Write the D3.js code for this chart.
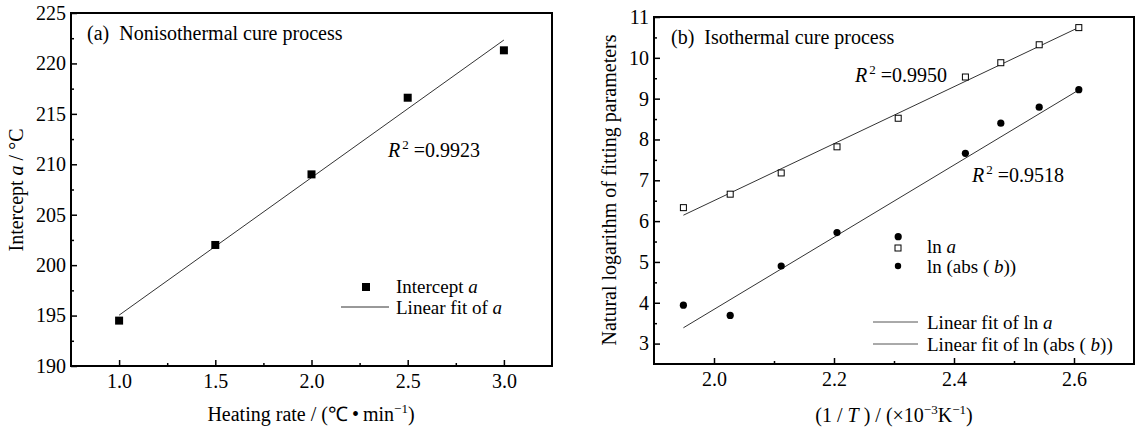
<!DOCTYPE html>
<html>
<head>
<meta charset="utf-8">
<script src="https://cdn.jsdelivr.net/npm/d3@7"></script>
<style>
  body { margin: 0; background: #fff; }
  svg { display: block; font-family: "Liberation Serif", "Times New Roman", serif; }
  svg text { font-family: "Liberation Serif", "Times New Roman", serif; }
  .tick text { font-size: 20px; fill: #000; font-family: "Liberation Serif", "Times New Roman", serif; }
  .tick line { stroke: #000; stroke-width: 1.5; }
</style>
</head>
<body>
<svg id="chart" width="1143" height="427"></svg>
<script>
// (a) nonisothermal
const heatingRate = [1.0, 1.5, 2.0, 2.5, 3.0];
const interceptA = [194.5, 202.0, 209.0, 216.6, 221.3];
const ticksA_x = [1.0, 1.5, 2.0, 2.5, 3.0];
const ticksA_y = [190, 195, 200, 205, 210, 215, 220, 225];

// (b) isothermal
const invT = [1.949, 2.027, 2.112, 2.205, 2.307, 2.419, 2.478, 2.542, 2.608];
const lnA = [6.33, 6.66, 7.18, 7.82, 8.52, 9.53, 9.88, 10.32, 10.74];
const lnAbsB = [3.94, 3.69, 4.90, 5.72, 5.62, 7.66, 8.40, 8.79, 9.22];
const ticksB_x = [2.0, 2.2, 2.4, 2.6];
const ticksB_y = [3, 4, 5, 6, 7, 8, 9, 10, 11];

const svg = d3.select("#chart");

// least squares fit, returns endpoints at first/last x
function fit(xs, ys) {
    const mx = d3.mean(xs), my = d3.mean(ys);
    const b = d3.sum(xs, (v, i) => (v - mx) * (ys[i] - my)) / d3.sum(xs, v => (v - mx) * (v - mx));
    const a = my - b * mx;
    const x0 = d3.min(xs), x1 = d3.max(xs);
    return [{ x: x0, y: a + b * x0 }, { x: x1, y: a + b * x1 }];
}

function drawAxes(g, x, y, xt, yt, xMinor, yMinor, xFmt, yFmt) {
    const [x0, x1] = x.range();
    const [y0, y1] = y.range();
    const clean = s => {
        s.select(".domain").remove();
        s.attr("font-family", null).attr("font-size", null);
    };
    // minor ticks
    g.append("g").attr("transform", `translate(0,${y0})`)
        .call(d3.axisBottom(x).tickValues(xMinor).tickSize(-3).tickFormat(""))
        .call(clean);
    g.append("g").attr("transform", `translate(${x0},0)`)
        .call(d3.axisLeft(y).tickValues(yMinor).tickSize(-3).tickFormat(""))
        .call(clean);
    // major ticks
    g.append("g").attr("transform", `translate(0,${y0})`)
        .call(d3.axisBottom(x).tickValues(xt).tickSize(-6).tickPadding(8).tickFormat(xFmt))
        .call(clean);
    g.append("g").attr("transform", `translate(${x0},0)`)
        .call(d3.axisLeft(y).tickValues(yt).tickSize(-6).tickPadding(5).tickFormat(yFmt))
        .call(clean);
    // frame
    g.append("rect")
        .attr("x", x0).attr("y", y1)
        .attr("width", x1 - x0).attr("height", y0 - y1)
        .attr("fill", "none").attr("stroke", "#000").attr("stroke-width", 2);
}

const line = (x, y) => d3.line().x(d => x(d.x)).y(d => y(d.y));

function r2(g, x, y, val) {
    const t = g.append("text").attr("x", x).attr("y", y).attr("font-size", 20);
    t.append("tspan").attr("font-style", "italic").text("R");
    t.append("tspan").attr("dx", 2).attr("dy", -8).attr("font-size", 13).text("2");
    t.append("tspan").attr("dy", 8).attr("xml:space", "preserve").text(" =" + val);
}

// ---------- panel (a) ----------
const gA = svg.append("g");
const xA = d3.scaleLinear().domain([0.75, 3.25]).range([71, 552]);
const yA = d3.scaleLinear().domain([190, 225]).range([366, 13]);

drawAxes(gA, xA, yA, ticksA_x, ticksA_y,
    d3.range(1.25, 3.25, 0.5), d3.range(192.5, 225, 5),
    d3.format(".1f"), d3.format("d"));

const dataA = heatingRate.map((v, i) => ({ x: v, y: interceptA[i] }));

gA.append("path")
    .datum(fit(heatingRate, interceptA))
    .attr("fill", "none").attr("stroke", "#333").attr("stroke-width", 1)
    .attr("d", line(xA, yA));

gA.selectAll(".ptA").data(dataA).join("rect")
    .attr("x", d => xA(d.x) - 4).attr("y", d => yA(d.y) - 4)
    .attr("width", 8).attr("height", 8).attr("fill", "#000");

gA.append("text").attr("x", 87).attr("y", 40).attr("font-size", 20)
    .attr("xml:space", "preserve").text("(a)  Nonisothermal cure process");

r2(gA, 388, 157, "0.9923");

// legend a
gA.append("rect").attr("x", 362).attr("y", 283).attr("width", 8).attr("height", 8).attr("fill", "#000");
const la1 = gA.append("text").attr("x", 396).attr("y", 293).attr("font-size", 19);
la1.append("tspan").text("Intercept ");
la1.append("tspan").attr("font-style", "italic").text("a");
gA.append("line").attr("x1", 341).attr("x2", 389).attr("y1", 307).attr("y2", 307)
    .attr("stroke", "#333").attr("stroke-width", 1);
const la2 = gA.append("text").attr("x", 396).attr("y", 314).attr("font-size", 19);
la2.append("tspan").text("Linear fit of ");
la2.append("tspan").attr("font-style", "italic").text("a");

// axis labels a
const xlA = gA.append("text").attr("x", 311).attr("y", 421).attr("text-anchor", "middle").attr("font-size", 20);
xlA.append("tspan").text("Heating rate / (\u2103\u2009\u2022\u2009min");
xlA.append("tspan").attr("dy", -8).attr("font-size", 13).text("\u22121");
xlA.append("tspan").attr("dy", 8).text(")");

const ylA = gA.append("text").attr("transform", "translate(23,190) rotate(-90)")
    .attr("text-anchor", "middle").attr("font-size", 20);
ylA.append("tspan").text("Intercept ");
ylA.append("tspan").attr("font-style", "italic").text("a");
ylA.append("tspan").text(" / \u00b0C");

// ---------- panel (b) ----------
const gB = svg.append("g");
const xB = d3.scaleLinear().domain([1.9, 2.7]).range([654, 1134]);
const yB = d3.scaleLinear().domain([2.5, 11]).range([364, 17]);

drawAxes(gB, xB, yB, ticksB_x, ticksB_y,
    [2.1, 2.3, 2.5], d3.range(3.5, 11, 1),
    d3.format(".1f"), d3.format("d"));

gB.append("path")
    .datum(fit(invT, lnA))
    .attr("fill", "none").attr("stroke", "#333").attr("stroke-width", 1)
    .attr("d", line(xB, yB));
gB.append("path")
    .datum(fit(invT, lnAbsB))
    .attr("fill", "none").attr("stroke", "#333").attr("stroke-width", 1)
    .attr("d", line(xB, yB));

const dataLnA = invT.map((v, i) => ({ x: v, y: lnA[i] }));
const dataLnB = invT.map((v, i) => ({ x: v, y: lnAbsB[i] }));

gB.selectAll(".sq").data(dataLnA).join("rect")
    .attr("x", d => xB(d.x) - 3).attr("y", d => yB(d.y) - 3)
    .attr("width", 6).attr("height", 6)
    .attr("fill", "#fff").attr("stroke", "#000").attr("stroke-width", 1);
gB.selectAll(".dot").data(dataLnB).join("circle")
    .attr("cx", d => xB(d.x)).attr("cy", d => yB(d.y))
    .attr("r", 3.6).attr("fill", "#000");

gB.append("text").attr("x", 671).attr("y", 44).attr("font-size", 20)
    .attr("xml:space", "preserve").text("(b)  Isothermal cure process");

r2(gB, 855, 82, "0.9950");
r2(gB, 972, 182, "0.9518");

// legend b
gB.append("rect").attr("x", 895).attr("y", 245).attr("width", 6).attr("height", 6)
    .attr("fill", "#fff").attr("stroke", "#000");
gB.append("circle").attr("cx", 898).attr("cy", 266).attr("r", 3.2).attr("fill", "#000");
gB.append("line").attr("x1", 873).attr("x2", 918).attr("y1", 322).attr("y2", 322)
    .attr("stroke", "#555").attr("stroke-width", 1);
gB.append("line").attr("x1", 873).attr("x2", 918).attr("y1", 344).attr("y2", 344)
    .attr("stroke", "#555").attr("stroke-width", 1);

const lb1 = gB.append("text").attr("x", 927).attr("y", 253).attr("font-size", 19);
lb1.append("tspan").text("ln ");
lb1.append("tspan").attr("font-style", "italic").text("a");
const lb2 = gB.append("text").attr("x", 927).attr("y", 273).attr("font-size", 19);
lb2.append("tspan").text("ln (abs ( ");
lb2.append("tspan").attr("font-style", "italic").text("b");
lb2.append("tspan").text("))");
const lb3 = gB.append("text").attr("x", 927).attr("y", 329).attr("font-size", 19);
lb3.append("tspan").text("Linear fit of ln ");
lb3.append("tspan").attr("font-style", "italic").text("a");
const lb4 = gB.append("text").attr("x", 927).attr("y", 351).attr("font-size", 19);
lb4.append("tspan").text("Linear fit of ln (abs ( ");
lb4.append("tspan").attr("font-style", "italic").text("b");
lb4.append("tspan").text("))");

// axis labels b
const xlB = gB.append("text").attr("x", 894).attr("y", 422).attr("text-anchor", "middle").attr("font-size", 20);
xlB.append("tspan").text("(1 / ");
xlB.append("tspan").attr("font-style", "italic").text("T");
xlB.append("tspan").text(" ) / (\u00d710");
xlB.append("tspan").attr("dy", -8).attr("font-size", 13).text("\u22123");
xlB.append("tspan").attr("dy", 8).text("K");
xlB.append("tspan").attr("dy", -8).attr("font-size", 13).text("\u22121");
xlB.append("tspan").attr("dy", 8).text(")");

gB.append("text").attr("transform", "translate(616,190) rotate(-90)")
    .attr("text-anchor", "middle").attr("font-size", 20)
    .text("Natural logarithm of fitting parameters");
</script>
</body>
</html>
